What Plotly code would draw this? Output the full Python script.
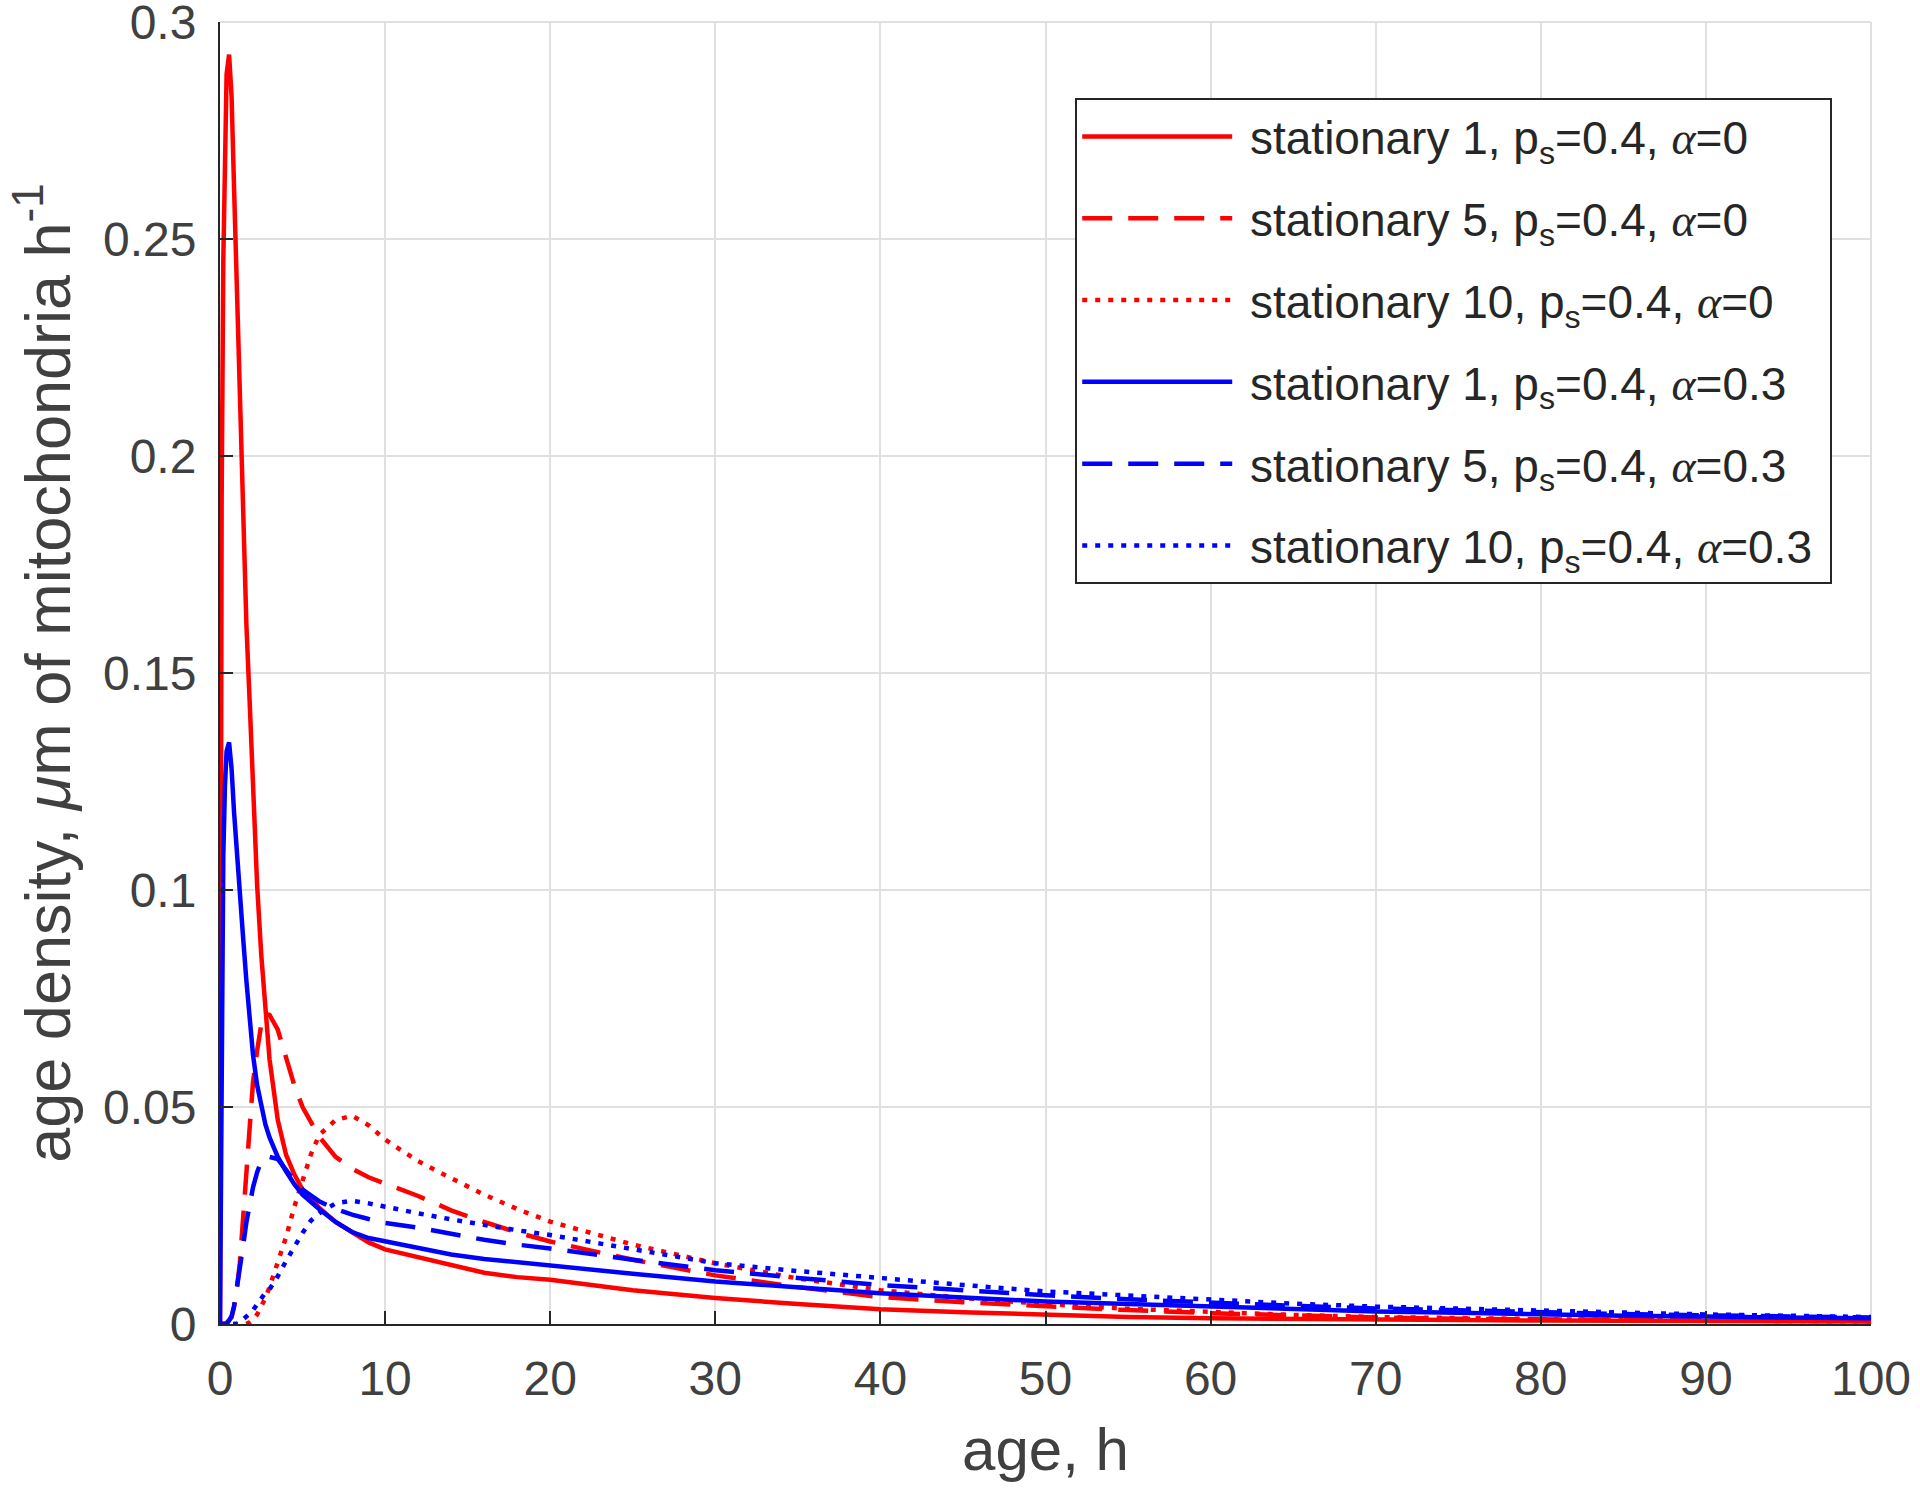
import plotly.graph_objects as go

# age grid, h
age = [0, 0.1, 0.2, 0.3, 0.4, 0.55, 0.7, 0.85, 1.0, 1.2, 1.4, 1.6, 1.8, 2.0, 2.25, 2.5,
       2.75, 3.0, 3.5, 4.0, 4.5, 5.0, 5.5, 6.0, 7.0, 8.0, 9.0, 10, 12, 14, 16, 18, 20,
       25, 30, 35, 40, 45, 50, 55, 60, 65, 70, 75, 80, 85, 90, 95, 100]

# alpha = 0 (red)
stat1_a0 = [0, 0.19, 0.245, 0.275, 0.288, 0.2925, 0.283, 0.262, 0.240, 0.212, 0.186, 0.161,
            0.143, 0.123, 0.101, 0.085, 0.072, 0.061, 0.047, 0.039, 0.0345, 0.031, 0.029,
            0.0268, 0.0235, 0.021, 0.0188, 0.0172, 0.0154, 0.0134, 0.0118, 0.0108, 0.0102,
            0.0078, 0.006, 0.0046, 0.0034, 0.0027, 0.0021, 0.0016, 0.0013, 0.0011, 0.001,
            0.0009, 0.0008, 0.0007, 0.0007, 0.0006, 0.0006]
stat5_a0 = [0, 0, 0, 0, 0.0003, 0.0008, 0.0015, 0.004, 0.0075, 0.014, 0.024, 0.036, 0.046,
            0.0558, 0.063, 0.069, 0.0715, 0.0712, 0.0678, 0.0615, 0.055, 0.050, 0.0465,
            0.0432, 0.0385, 0.0358, 0.0338, 0.0324, 0.0295, 0.0262, 0.0235, 0.0211, 0.019,
            0.0148, 0.0112, 0.0085, 0.0062, 0.005, 0.004, 0.0032, 0.0025, 0.0019, 0.0015,
            0.0012, 0.001, 0.0009, 0.0008, 0.0007, 0.0007]
stat10_a0 = [0, 0, 0, 0, 0, 0, 0, 0, 0, 0, 0, 0, 0.0004, 0.001, 0.0022, 0.004, 0.006,
             0.0085, 0.014, 0.020, 0.027, 0.033, 0.039, 0.0435, 0.047, 0.048, 0.0458,
             0.0425, 0.0375, 0.0336, 0.0298, 0.0265, 0.0236, 0.0183, 0.014, 0.0105, 0.0078,
             0.006, 0.0046, 0.0035, 0.0027, 0.0021, 0.0016, 0.0013, 0.0011, 0.0009, 0.0008,
             0.0007, 0.0006]

# alpha = 0.3 (blue)
stat1_a03 = [0, 0.075, 0.108, 0.124, 0.132, 0.134, 0.128, 0.118, 0.109, 0.0995, 0.089,
             0.079, 0.069, 0.062, 0.055, 0.050, 0.046, 0.043, 0.0385, 0.0352, 0.0322,
             0.0298, 0.028, 0.0265, 0.0235, 0.0212, 0.0198, 0.019, 0.0174, 0.016, 0.015,
             0.0142, 0.0136, 0.0116, 0.0098, 0.0084, 0.0071, 0.0061, 0.0052, 0.0046, 0.004,
             0.0034, 0.0029, 0.0026, 0.0022, 0.0019, 0.0017, 0.0015, 0.0013]
stat5_a03 = [0, 0, 0, 0, 0, 0.0008, 0.0018, 0.004, 0.0075, 0.0125, 0.018, 0.0235, 0.028,
             0.0315, 0.035, 0.0375, 0.0384, 0.0385, 0.038, 0.0355, 0.033, 0.031, 0.0295,
             0.0283, 0.0265, 0.0252, 0.0242, 0.0233, 0.0222, 0.0207, 0.0194, 0.0183, 0.0174,
             0.0148, 0.0124, 0.0106, 0.009, 0.0078, 0.0066, 0.0057, 0.0049, 0.0042, 0.0036,
             0.0031, 0.0026, 0.0023, 0.002, 0.0017, 0.0015]
stat10_a03 = [0, 0, 0, 0, 0, 0, 0, 0, 0, 0.0004, 0.001, 0.0016, 0.0024, 0.0032, 0.0045,
              0.006, 0.0072, 0.008, 0.011, 0.0145, 0.018, 0.021, 0.0238, 0.0255, 0.0278,
              0.0284, 0.0278, 0.027, 0.0255, 0.0241, 0.0228, 0.0216, 0.0205, 0.0172, 0.014,
              0.0122, 0.0105, 0.009, 0.0075, 0.0065, 0.0055, 0.0047, 0.004, 0.0035, 0.003,
              0.0026, 0.0022, 0.0019, 0.0016]

x_ticks = [0, 10, 20, 30, 40, 50, 60, 70, 80, 90, 100]
y_ticks = [0, 0.05, 0.1, 0.15, 0.2, 0.25, 0.3]
y_ticktext = ["0", "0.05", "0.1", "0.15", "0.2", "0.25", "0.3"]

alpha = '<span style="font-family:Liberation Serif"><i>α</i></span>'
nb = "\u00a0"
series = [
    ("stationary 1, p<sub>s</sub>=0.4, " + alpha + "=0", stat1_a0, "#ff0000", "solid"),
    ("stationary 5, p<sub>s</sub>=0.4, " + alpha + "=0", stat5_a0, "#ff0000", "30px,16px"),
    ("stationary 10, p<sub>s</sub>=0.4, " + alpha + "=0", stat10_a0, "#ff0000", "5px,8px"),
    ("stationary 1, p<sub>s</sub>=0.4, " + alpha + "=0.3", stat1_a03, "#0000ff", "solid"),
    ("stationary 5, p<sub>s</sub>=0.4, " + alpha + "=0.3", stat5_a03, "#0000ff", "30px,16px"),
    ("stationary 10, p<sub>s</sub>=0.4, " + alpha + "=0.3", stat10_a03, "#0000ff", "5px,8px"),
]

fig = go.Figure()
for i, (name, vals, col, dash) in enumerate(series):
    fig.add_trace(go.Scatter(x=age, y=vals, mode="lines", name=nb + name + nb,
                             legendgroup="g%d" % i,
                             line=dict(color=col, width=4.5, dash=dash)))

axis_common = dict(showgrid=True, gridcolor="#e0e0e0", gridwidth=2,
                   showline=True, linecolor="#262626", linewidth=2,
                   ticks="inside", ticklen=13, tickwidth=2, tickcolor="#262626",
                   zeroline=False, mirror=False, ticklabeloverflow="allow",
                   tickfont=dict(size=48, color="#404040"))

fig.update_xaxes(range=[0, 100], tickvals=x_ticks, ticktext=[str(v) for v in x_ticks],
                 ticklabelstandoff=11,
                 title=dict(text="age, h", font=dict(size=60, color="#404040"), standoff=24),
                 **axis_common)
fig.update_yaxes(range=[0, 0.3], tickvals=y_ticks, ticktext=y_ticktext,
                 ticklabelstandoff=12,
                 title=dict(text="age density, <i>μ</i>m of mitochondria h<sup>-1</sup>",
                            font=dict(size=63, color="#404040"), standoff=12),
                 **axis_common)

# grid lines along the top and right edges of the axes (box off, grid on)
fig.add_shape(type="line", xref="paper", yref="paper", x0=0, x1=1, y0=1, y1=1,
              line=dict(color="#e0e0e0", width=2), layer="below")
fig.add_shape(type="line", xref="paper", yref="paper", x0=1, x1=1, y0=0, y1=1,
              line=dict(color="#e0e0e0", width=2), layer="below")

fig.update_layout(
    width=1920, height=1495,
    margin=dict(l=220, r=49, t=22, b=171, autoexpand=False),
    paper_bgcolor="white", plot_bgcolor="white",
    font=dict(family="Liberation Sans, Arial, sans-serif", color="#262626"),
    legend=dict(x=0.518, y=0.9416, xanchor="left", yanchor="top", bgcolor="white",
                bordercolor="#262626", borderwidth=2,
                font=dict(size=46, color="#262626"),
                itemwidth=150, tracegroupgap=19),
)

fig.write_html("out.html", config={"displayModeBar": False},
               post_script="document.body.style.margin='0';")
